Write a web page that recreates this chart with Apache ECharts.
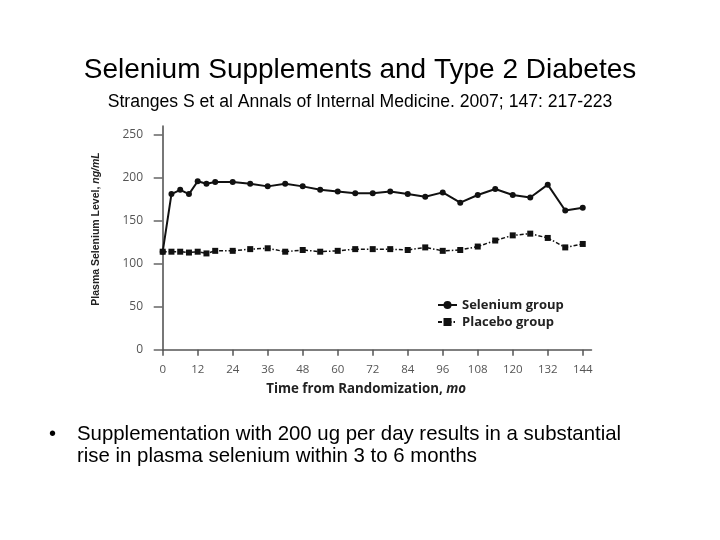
<!DOCTYPE html>
<html>
<head>
<meta charset="utf-8">
<script src="https://cdn.jsdelivr.net/npm/echarts@6/dist/echarts.min.js"></script>
<style>
html,body{margin:0;padding:0;background:#fff;}
#main{width:720px;height:540px;}
</style>
</head>
<body>
<div id="main"></div>
<script>
// ---- data ----
var months = [0, 3, 6, 9, 12, 15, 18, 24, 30, 36, 42, 48, 54, 60, 66, 72, 78, 84, 90, 96, 102, 108, 114, 120, 126, 132, 138, 144];
var seleniumGroup = [114, 181, 186, 181, 196, 193, 195, 195, 193, 190, 193, 190, 186, 184, 182, 182, 184, 181, 178, 183, 171, 180, 187, 180, 177, 192, 162, 165];
var placeboGroup = [114, 114, 114, 113, 114, 112, 115, 115, 117, 118, 114, 116, 114, 115, 117, 117, 117, 116, 119, 115, 116, 120, 127, 133, 135, 130, 119, 123];
var xTicks = [0, 12, 24, 36, 48, 60, 72, 84, 96, 108, 120, 132, 144];
var yTicks = [0, 50, 100, 150, 200, 250];
var seriesNames = ['Selenium group', 'Placebo group'];

function pairs(xs, ys) { return xs.map(function (x, i) { return [x, ys[i]]; }); }

var chart = echarts.init(document.getElementById('main'), null, {renderer: 'canvas'});
var tickFont = "'Open Sans', 'DejaVu Sans', sans-serif";
var arial = "'Liberation Sans', Arial, sans-serif";
var option = {
  backgroundColor: '#ffffff',
  animation: false,
  title: [
    {text: 'Selenium Supplements and Type 2 Diabetes', left: 'center', top: 56, padding: 0,
     textStyle: {fontFamily: arial, fontSize: 28, fontWeight: 'normal', color: '#000'}},
    {text: 'Stranges S et al Annals of Internal Medicine. 2007; 147: 217-223', left: 'center', top: 93, padding: 0,
     textStyle: {fontFamily: arial, fontSize: 17.6, fontWeight: 'normal', color: '#000'}},
    {text: '\u2022', left: 49, top: 423, padding: 0,
     textStyle: {fontFamily: arial, fontSize: 20, fontWeight: 'normal', color: '#000', lineHeight: 22}},
    {text: 'Supplementation with 200 ug per day results in a substantial\nrise in plasma selenium within 3 to 6 months', left: 77, top: 423, padding: 0,
     textStyle: {fontFamily: arial, fontSize: 20.4, fontWeight: 'normal', color: '#000', lineHeight: 22}}
  ],
  legend: {
    data: seriesNames,
    orient: 'vertical',
    left: 432, top: 293.5,
    itemWidth: 19, itemHeight: 10, itemGap: 4,
    textStyle: {fontFamily: tickFont, fontWeight: 'bold', fontSize: 13, color: '#222'}
  },
  grid: {left: 162.7, top: 126.2, right: 128.5, bottom: 190.3, containLabel: false},
  xAxis: {
    type: 'value', min: 0, max: 147, offset: 5.3,
    name: 'Time from Randomization, {i|mo}',
    nameLocation: 'middle', nameGap: 28,
    nameTextStyle: {fontFamily: tickFont, fontWeight: 'bold', fontSize: 13.3, color: '#222', padding: [0, 22, 0, 0],
      rich: {i: {fontFamily: tickFont, fontWeight: 'bold', fontStyle: 'italic', fontSize: 13.3, color: '#222'}}},
    axisLine: {show: true, lineStyle: {color: '#555', width: 1.5}},
    axisTick: {show: true, length: 6, customValues: xTicks, lineStyle: {color: '#555', width: 1.5}},
    axisLabel: {customValues: xTicks, margin: 9, fontFamily: tickFont, fontSize: 11.5, color: '#555'},
    splitLine: {show: false}
  },
  yAxis: {
    type: 'value', min: 0, max: 260, offset: 8.7,
    name: 'Plasma Selenium Level, {i|ng/mL}',
    nameLocation: 'middle', nameGap: 52, nameRotate: 90,
    nameTextStyle: {fontFamily: arial, fontWeight: 'bold', fontSize: 10.5, color: '#222', padding: [0, 0, 0, 18],
      rich: {i: {fontFamily: arial, fontWeight: 'bold', fontStyle: 'italic', fontSize: 10.5, color: '#222'}}},
    axisLine: {show: true, lineStyle: {color: '#777', width: 2}},
    axisTick: {show: true, length: 9, customValues: yTicks, lineStyle: {color: '#666', width: 1.5}},
    axisLabel: {customValues: yTicks, margin: 11, fontFamily: tickFont, fontSize: 12, color: '#555'},
    splitLine: {show: false}
  },
  series: [
    {name: seriesNames[0], type: 'line', data: pairs(months, seleniumGroup),
     symbol: 'circle', symbolSize: 6, color: '#111',
     lineStyle: {color: '#111', width: 2}, itemStyle: {color: '#111'}},
    {name: seriesNames[1], type: 'line', data: pairs(months, placeboGroup),
     symbol: 'rect', symbolSize: 6, color: '#111',
     lineStyle: {color: '#111', width: 1.5, type: [4, 2, 1.5, 2]}, itemStyle: {color: '#111'}}
  ]
};
chart.setOption(option);
</script>
</body>
</html>
